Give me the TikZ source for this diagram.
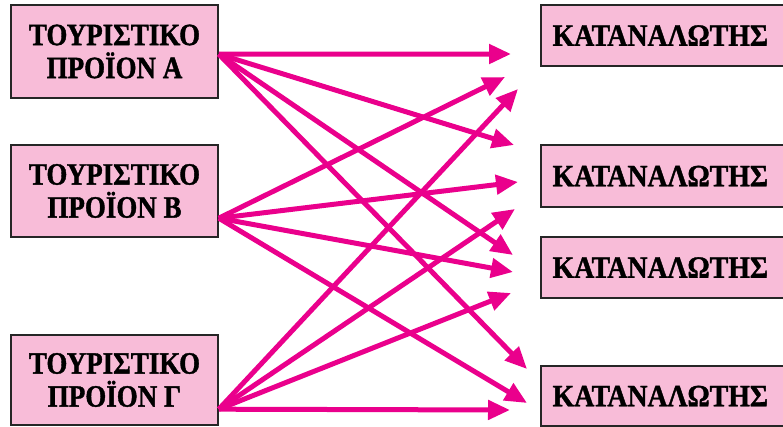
\documentclass[tikz,border=0pt]{standalone}
\usepackage{fontspec}
\setmainfont{Liberation Serif}[FakeStretch=0.87, BoldFont={Liberation Serif Bold}, BoldFeatures={FakeStretch=0.87, FakeBold=1.2}]
\usetikzlibrary{arrows.meta,calc}
\definecolor{boxpink}{RGB}{248,188,216}
\definecolor{arrmag}{RGB}{234,0,140}
\tikzset{
  prodbox/.style={draw=black!85, line width=1.6pt, fill=boxpink, inner sep=0pt,
    minimum width=207pt, align=center, font=\bfseries\fontsize{31}{33}\selectfont},
  consbox/.style={draw=black!85, line width=1.6pt, fill=boxpink, inner sep=0pt,
    minimum width=260pt, font=\bfseries\fontsize{31}{33}\selectfont},
  link/.style={draw=arrmag, line width=5pt, -{Triangle[length=22pt,width=19pt]}}
}
\begin{document}
\begin{tikzpicture}[x=1pt,y=-1pt]
\useasboundingbox (0,0) rectangle (783,427);
\node[prodbox, minimum height=93pt] (A) at (114.5,51.5) {ΤΟΥΡΙΣΤΙΚΟ\\ΠΡΟΪΟΝ Α};
\node[prodbox, minimum height=92pt] (B) at (114.5,191) {ΤΟΥΡΙΣΤΙΚΟ\\ΠΡΟΪΟΝ Β};
\node[prodbox, minimum height=90pt] (G) at (114.5,380) {ΤΟΥΡΙΣΤΙΚΟ\\ΠΡΟΪΟΝ Γ};
\node[consbox, minimum height=61pt, anchor=west] (K1) at (540,35.5) {\hspace*{-21pt}\scalebox{1.03}[1]{ΚΑΤΑΝΑΛΩΤΗΣ}};
\node[consbox, minimum height=62pt, anchor=west] (K2) at (540,176) {\hspace*{-21pt}\scalebox{1.03}[1]{ΚΑΤΑΝΑΛΩΤΗΣ}};
\node[consbox, minimum height=61pt, anchor=west] (K3) at (540,267.5) {\hspace*{-21pt}\scalebox{1.03}[1]{ΚΑΤΑΝΑΛΩΤΗΣ}};
\node[consbox, minimum height=60pt, anchor=west] (K4) at (540,396) {\hspace*{-21pt}\scalebox{1.03}[1]{ΚΑΤΑΝΑΛΩΤΗΣ}};
% start points on the right edges of the product boxes
\coordinate (sA) at ($(A.north east)+(0,50)$);
\coordinate (sB) at ($(B.north east)+(0,74)$);
\coordinate (sG) at ($(G.north east)+(0,75)$);
% free arrow ends
\coordinate (a1) at (511,54);
\coordinate (a2) at (514,145);
\coordinate (a3) at (513,255);
\coordinate (a4) at (527,369);
\coordinate (b1) at (505,77);
\coordinate (b2) at (518,182);
\coordinate (b3) at (513,272);
\coordinate (b4) at (527,403);
\coordinate (g1) at (518,89);
\coordinate (g2) at (515,209);
\coordinate (g3) at (511,293);
\coordinate (g4) at (510,410);
\foreach \e in {a1,a2,a3,a4} \draw[link] (sA) -- (\e);
\foreach \e in {b1,b2,b3,b4} \draw[link] (sB) -- (\e);
\foreach \e in {g1,g2,g3,g4} \draw[link] (sG) -- (\e);
\end{tikzpicture}
\end{document}
